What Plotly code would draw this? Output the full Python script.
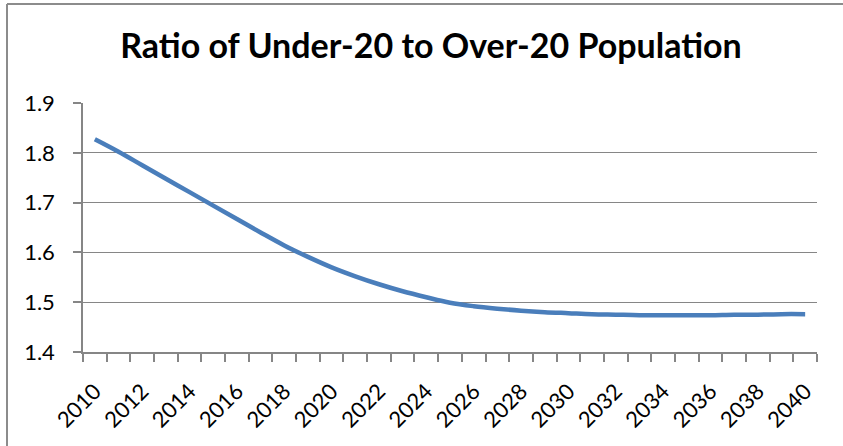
import plotly.graph_objects as go

years = list(range(2010, 2041))
ratio = [1.827, 1.802, 1.775, 1.748, 1.721, 1.694, 1.667, 1.640, 1.614, 1.591,
         1.570, 1.552, 1.536, 1.522, 1.510, 1.499, 1.492, 1.487, 1.483, 1.480,
         1.478, 1.476, 1.475, 1.474, 1.474, 1.474, 1.474, 1.475, 1.475, 1.476,
         1.476]
label_years = list(range(2010, 2041, 2))
y_ticks = [1.4, 1.5, 1.6, 1.7, 1.8, 1.9]
title_text = "Ratio of Under-20 to Over-20 Population"

W, H = 843, 446
L, R, T, B = 83, 26, 103, 94
pw, ph = W - L - R, H - T - B

grey = "#868686"
font_fam = "Lato, 'Open Sans', sans-serif"

fig = go.Figure()
fig.add_trace(go.Scatter(
    x=years, y=ratio, mode="lines",
    line=dict(color="#4a7ebb", width=4.5, shape="spline", smoothing=1.0),
    showlegend=False, hoverinfo="skip"))

boundaries = [y - 0.5 for y in years] + [years[-1] + 0.5]

fig.update_layout(
    width=W, height=H,
    margin=dict(l=L, r=R, t=T, b=B),
    paper_bgcolor="white", plot_bgcolor="white",
    font=dict(family=font_fam, color="black", size=22),
    title=dict(text="<b>" + title_text + "</b>", x=431 / W, xanchor="center",
               xref="container", yref="container", y=1 - 46 / H, yanchor="middle",
               font=dict(family=font_fam, size=34, color="black")),
    xaxis=dict(range=[years[0] - 0.5, years[-1] + 0.5], tickmode="array",
               tickvals=label_years, ticktext=[str(v) for v in label_years],
               tickangle=-45, ticks="outside", ticklen=8, tickcolor="rgba(0,0,0,0)",
               ticklabelstandoff=8,
               showline=True, linecolor=grey, linewidth=1.5, showgrid=False,
               zeroline=False, tickfont=dict(size=22),
               minor=dict(tickmode="array", tickvals=boundaries, ticks="outside",
                          ticklen=8, tickcolor=grey, tickwidth=1.5, showgrid=False)),
    yaxis=dict(range=[1.4, 1.9], tickmode="array", tickvals=y_ticks,
               ticktext=[f"{v:.1f}" for v in y_ticks], ticks="outside", ticklen=8,
               tickcolor=grey, tickwidth=1.5, showline=True, linecolor=grey,
               ticklabelstandoff=14,
               linewidth=1.5, showgrid=True, gridcolor=grey, gridwidth=1.4,
               zeroline=False, tickfont=dict(size=22)),
)

# chart-area border (only left and top edges are visible in the cropped image)
bx0 = (7 - L) / pw
by1 = 1 + (T - 4) / ph
border = dict(color="#8c8c8c", width=2)
fig.add_shape(type="line", xref="paper", yref="paper", x0=bx0, x1=bx0,
              y0=-(B + 20) / ph, y1=by1, line=border, layer="below")
fig.add_shape(type="line", xref="paper", yref="paper", x0=bx0, x1=1 + (R + 20) / pw,
              y0=by1, y1=by1, line=border, layer="below")

fig.write_html("out.html", config={"displayModeBar": False},
               post_script="document.body.style.margin='0';document.body.style.overflow='hidden';")
